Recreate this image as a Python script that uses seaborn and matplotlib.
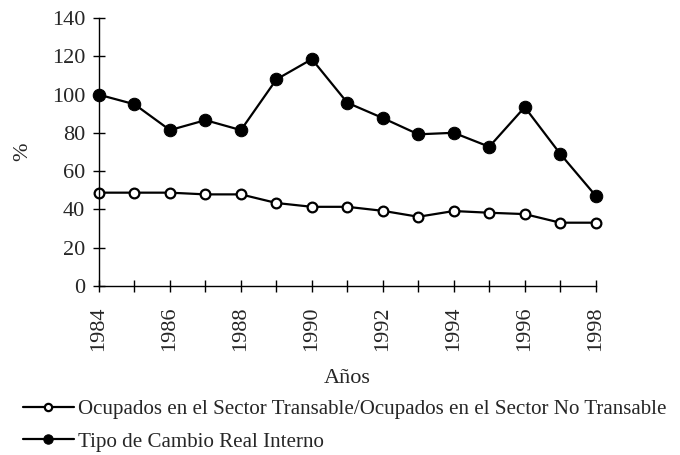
import numpy as np
import pandas as pd
import matplotlib
matplotlib.use("Agg")
import matplotlib.pyplot as plt
import seaborn as sns

years = list(range(1984, 1999))
ocupados = [48.8, 48.8, 48.8, 47.9, 47.9, 43.4, 41.4, 41.4, 39.3, 36.2, 39.2, 38.3, 37.6, 33.1, 33.1]
tcr = [100.0, 95.0, 81.5, 86.7, 81.5, 108.0, 118.6, 95.8, 87.8, 79.3, 80.1, 72.8, 93.5, 69.1, 47.2]
lab_ocu = "Ocupados en el Sector Transable/Ocupados en el Sector No Transable"
lab_tcr = "Tipo de Cambio Real Interno"

df = pd.DataFrame({"Año": years * 2,
                   "valor": ocupados + tcr,
                   "serie": [lab_ocu] * len(years) + [lab_tcr] * len(years)})

sns.set_style("white")
plt.rcParams["font.family"] = ["Liberation Serif", "DejaVu Serif"]

fig = plt.figure(figsize=(6.8, 4.55), dpi=100)
ax = fig.add_axes([0.1456, 0.3714, 0.7304, 0.5886])

sns.lineplot(data=df[df["serie"] == lab_ocu], x="Año", y="valor", ax=ax,
             color="black", lw=1.6, marker="o", markersize=7,
             markerfacecolor="white", markeredgecolor="black", markeredgewidth=1.6,
             label=lab_ocu)
sns.lineplot(data=df[df["serie"] == lab_tcr], x="Año", y="valor", ax=ax,
             color="black", lw=1.6, marker="o", markersize=9,
             markerfacecolor="black", markeredgecolor="black",
             label=lab_tcr)

ax.set_xlim(1984, 1998)
ax.set_ylim(0, 140)
ax.set_yticks(range(0, 141, 20))
ax.set_xticks(years)
ax.set_xticklabels([str(y) if y % 2 == 0 else "" for y in years], rotation=90, fontsize=16)
ax.tick_params(axis="y", labelsize=16)
ax.tick_params(bottom=True, left=True, direction="inout", length=8, width=1, color="black")
ax.tick_params(axis="x", pad=11)
ax.tick_params(axis="y", pad=6)
for s in ["top", "right"]:
    ax.spines[s].set_visible(False)
for s in ["left", "bottom"]:
    ax.spines[s].set_color("black")
    ax.spines[s].set_linewidth(1)
for line in ax.lines:
    line.set_clip_on(False)

ax.set_xlabel("Años", fontsize=16, labelpad=13)
ax.set_ylabel("%", fontsize=16, labelpad=14)

handles, labels = ax.get_legend_handles_labels()
ax.legend_.remove()
fig.legend(handles, labels, loc="upper left", bbox_to_anchor=(0.021, 0.14),
           frameon=False, fontsize=15.1, handlelength=2.45, handletextpad=0.2,
           labelspacing=0.6, borderaxespad=0, markerscale=0.75)

fig.savefig("out.png", dpi=100)
